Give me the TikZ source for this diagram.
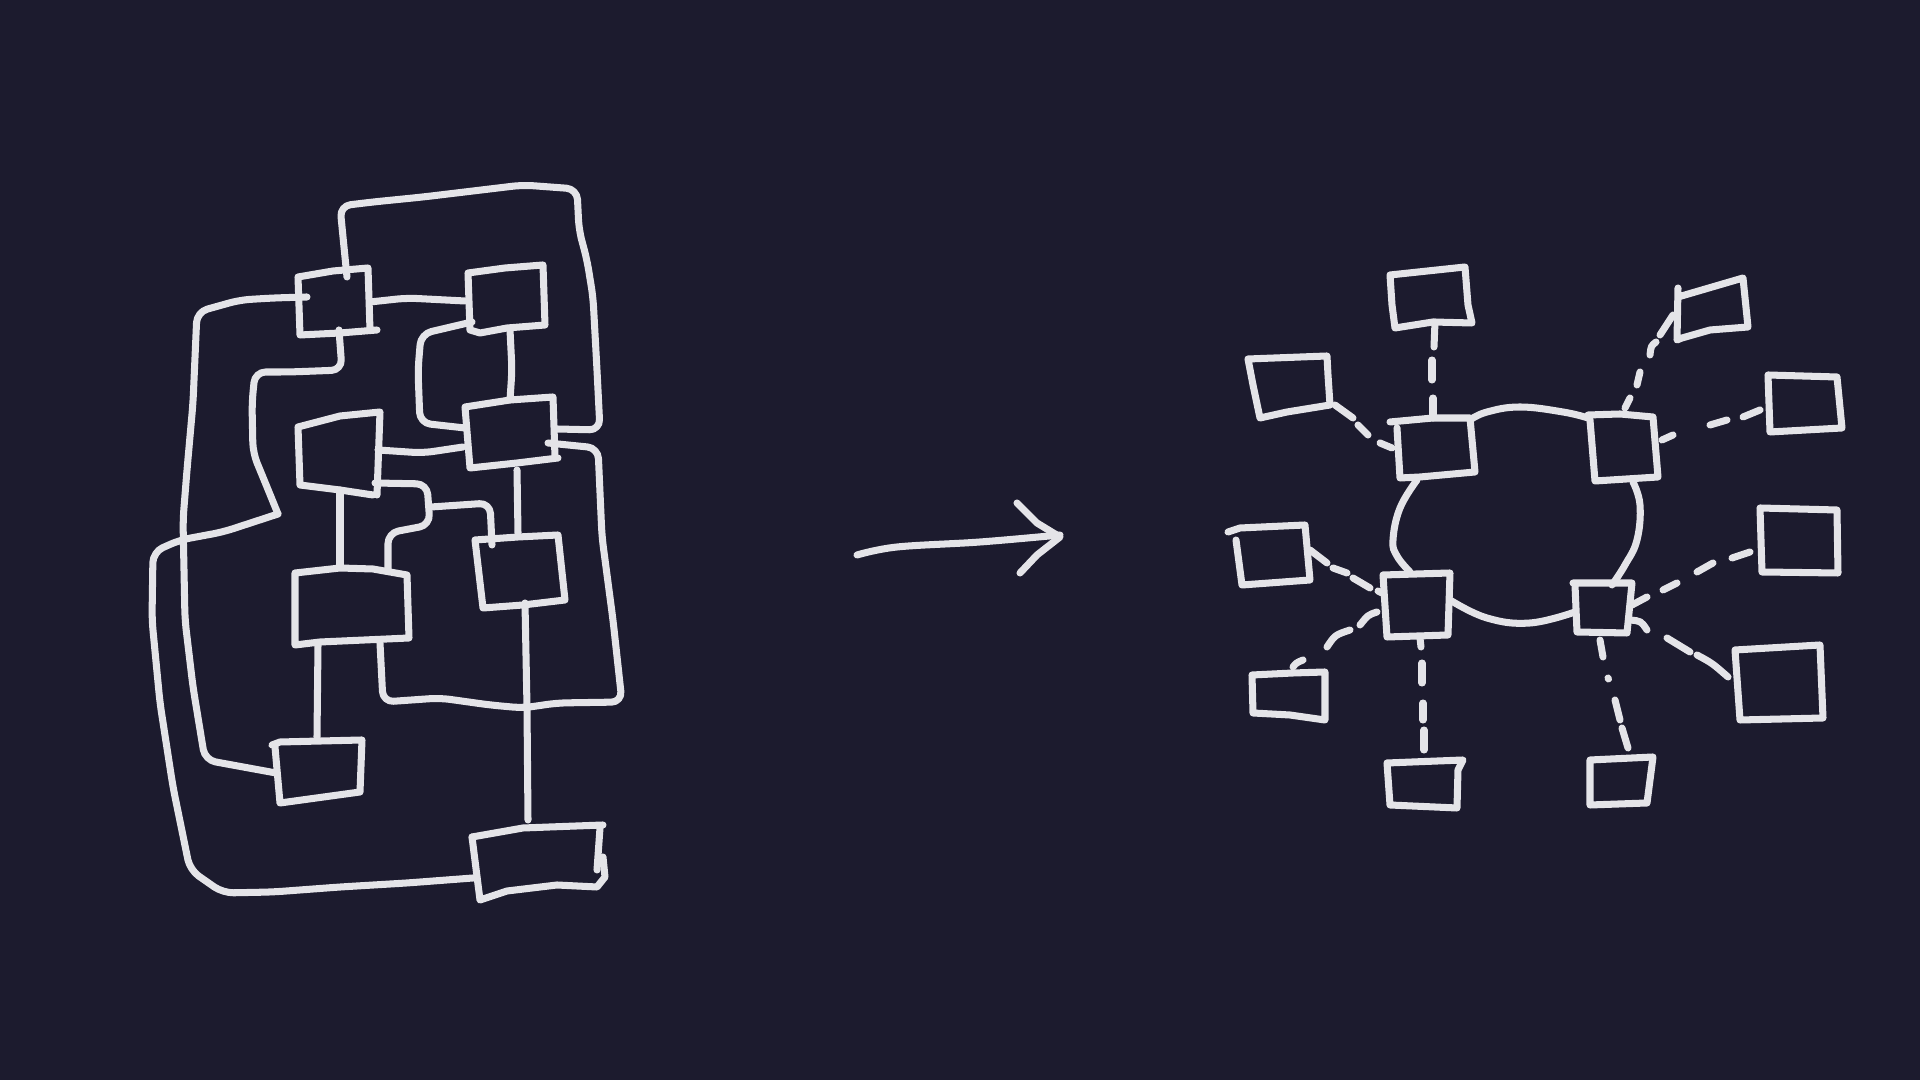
\documentclass[tikz,border=0pt]{standalone}
\definecolor{bg}{RGB}{28,27,46}
\definecolor{ink}{RGB}{228,228,232}
\tikzset{
  sk/.style={draw=ink, line width=2pt, line cap=round, line join=round},
  skr/.style={sk, rounded corners=3pt},
  skc/.style={draw=ink, line width=2pt, line cap=round, line join=round}
}
\begin{document}
\begin{tikzpicture}[x=0.01cm,y=-0.01cm]
\fill[bg] (0,0) rectangle (1920,1080);
\useasboundingbox (0,0) rectangle (1920,1080);

% ================= LEFT: tangled diagram =================
% boxes
\draw[sk] (377,330) -- (340,333) -- (300,335) -- (298,277) -- (333,271) -- (368,268) -- (370,330);           % A
\draw[sk] (468,273) -- (505,268) -- (543,265) -- (545,325) -- (507,328) -- (480,333) -- (470,330) -- (468,273); % B
\draw[sk] (373,495) -- (340,490) -- (300,485) -- (298,427) -- (340,416) -- (380,412) -- (377,495);           % C
\draw[sk] (558,458) -- (517,463) -- (470,468) -- (465,407) -- (510,400) -- (553,397) -- (555,457);           % D
\draw[sk] (409,638) -- (320,642) -- (295,645) -- (295,573) -- (340,568) -- (373,569) -- (407,575) -- (409,638); % E
\draw[sk] (475,540) -- (518,537) -- (558,535) -- (565,600) -- (523,605) -- (483,608) -- (475,540);           % F
\draw[sk] (272,745) -- (280,742) -- (362,740) -- (360,792) -- (280,803) -- (275,747);                         % G
\draw[sk] (472,837) -- (523,828) -- (603,825);                                                                % H top
\draw[sk] (600,828) -- (597,870);
\draw[sk] (603,857) -- (605,877) -- (597,887) -- (557,885) -- (507,891) -- (480,900) -- (472,837);

% connectors
\draw[skr] (347,277) -- (343,237) -- (340,206) -- (373,202) -- (423,197) -- (473,191) -- (523,185) -- (577,189)
      -- (579,230) -- (587,260) -- (593,297) -- (597,370) -- (600,430) -- (557,429);
\draw[skr] (307,297) -- (273,298) -- (240,300) -- (197,312) -- (193,403) -- (187,470) -- (183,520)
      -- (185,620) -- (193,687) -- (205,760) -- (276,773);
\draw[skr] (370,302) -- (407,298) -- (465,301);
\draw[skr] (472,322) -- (421,334) -- (418,370) -- (420,423) -- (465,428);
\draw[skr] (510,330) -- (512,370) -- (510,400);
\draw[skr] (339,330) -- (342,370) -- (290,372) -- (255,372) -- (252,403)
      -- (253,453) -- (267,487) -- (278,514);
\draw[skr] (278,514) -- (223,532) -- (180,540) -- (153,552) -- (152,620)
      -- (160,703) -- (173,787) -- (190,870) -- (223,893) -- (273,892) -- (340,887) -- (407,883) -- (473,878);
\draw[skr] (548,443) -- (598,448) -- (602,537) -- (613,620) -- (622,702)
      -- (557,703) -- (523,708) -- (490,705) -- (440,698) -- (383,702) -- (380,643);
\draw[skr] (378,450) -- (423,453) -- (463,447);
\draw[skr] (375,483) -- (427,484) -- (430,525) -- (388,533) -- (388,570);
\draw[skr] (431,507) -- (490,503) -- (492,545);
\draw[sk] (340,490) -- (340,567);
\draw[sk] (517,470) -- (518,533);
\draw[sk] (318,645) -- (317,737);
\draw[skr] (525,603) -- (527,707) -- (528,820);

% ================= ARROW =================
\draw[skc] plot[smooth, tension=0.6] coordinates {(857,555) (897,547) (980,542) (1060,535)};
\draw[sk] (1017,503) -- (1037,523) -- (1060,537) -- (1037,555) -- (1020,573);

% ================= RIGHT: organised diagram =================
% central boxes
\draw[sk] (1390,422) -- (1433,418) -- (1470,418) -- (1475,472) -- (1420,477) -- (1400,478) -- (1397,428);   % C1
\draw[sk] (1588,415) -- (1620,414) -- (1653,417) -- (1658,477) -- (1595,481) -- (1590,420);                 % C2
\draw[sk] (1383,575) -- (1450,573) -- (1448,635) -- (1387,637) -- (1383,575);                               % C3
\draw[sk] (1573,583) -- (1632,583) -- (1627,633) -- (1577,632) -- (1575,585);                               % C4
% ring
\draw[skc] plot[smooth, tension=0.7] coordinates {(1470,420) (1487,412) (1520,407) (1563,412) (1588,418)};
\draw[skc] plot[smooth, tension=0.7] coordinates {(1633,482) (1640,505) (1637,540) (1625,565) (1612,585)};
\draw[skc] plot[smooth, tension=0.7] coordinates {(1450,600) (1487,618) (1530,623) (1575,612)};
\draw[skc] plot[smooth, tension=0.7] coordinates {(1417,480) (1400,508) (1393,540) (1397,556) (1410,572)};

% outer boxes
\draw[sk] (1390,275) -- (1465,267) -- (1468,305) -- (1472,323) -- (1433,322) -- (1395,328) -- (1392,305) -- (1390,275); % O1
\draw[sk] (1678,288) -- (1677,340) -- (1682,338) -- (1710,330) -- (1748,327) -- (1743,278) -- (1678,297);                 % O2
\draw[sk] (1768,375) -- (1837,377) -- (1842,428) -- (1770,432) -- (1768,375);                                             % O3
\draw[sk] (1248,359) -- (1327,356) -- (1328,375) -- (1330,405) -- (1287,412) -- (1260,418) -- (1253,385) -- (1248,359);   % O4
\draw[sk] (1228,532) -- (1240,528) -- (1305,525) -- (1310,580) -- (1242,585) -- (1236,540);                               % O5
\draw[sk] (1760,508) -- (1837,510) -- (1838,573) -- (1762,572) -- (1760,508);                                             % O6
\draw[sk] (1252,675) -- (1293,673) -- (1325,672) -- (1325,720) -- (1290,715) -- (1253,713) -- (1252,675);                 % O7
\draw[sk] (1735,650) -- (1820,645) -- (1823,718) -- (1740,720) -- (1735,650);                                             % O8
\draw[sk] (1387,763) -- (1463,760) -- (1458,770) -- (1457,808) -- (1390,805) -- (1387,763);                               % O9
\draw[sk] (1590,760) -- (1653,757) -- (1647,803) -- (1590,805) -- (1590,760);                                             % O10

% dashed links (drawn dash by dash)
% O1 - C1
\draw[skc] (1435,322) -- (1434,347);
\draw[skc] (1432,360) -- (1432,380);
\draw[skc] (1433,398) -- (1433,418);
% O4 - C1
\draw[skc] (1335,405) -- (1353,418);
\draw[skc] (1358,425) -- (1368,435);
\draw[skc] (1380,443) -- (1392,448);
% O2 - C2
\draw[skc] (1673,315) -- (1660,335);
\draw[skc] (1656,342) .. controls (1651,346) .. (1650,355);
\draw[skc] (1640,372) -- (1637,385);
\draw[skc] (1630,398) -- (1625,408);
% O3 - C2
\draw[skc] (1760,410) -- (1743,417);
\draw[skc] (1727,420) -- (1710,425);
\draw[skc] (1673,435) -- (1662,440);
% O5 - C3
\draw[skc] (1310,550) -- (1327,563);
\draw[skc] (1333,568) -- (1347,573);
\draw[skc] (1353,578) -- (1370,588);
\draw[skc] (1378,591) -- (1382,593);
% O7 - C3
\draw[skc] (1377,612) .. controls (1368,615) .. (1360,625);
\draw[skc] (1350,630) .. controls (1335,635) .. (1327,647);
\draw[skc] (1303,660) .. controls (1296,663) .. (1293,667);
% O9 - C3
\draw[skc] (1420,638) -- (1421,647);
\draw[skc] (1422,663) -- (1422,683);
\draw[skc] (1423,703) -- (1423,720);
\draw[skc] (1424,730) -- (1424,750);
% O6 - C4
\draw[skc] (1632,605) -- (1647,597);
\draw[skc] (1663,590) -- (1677,583);
\draw[skc] (1697,572) -- (1713,563);
\draw[skc] (1732,558) -- (1750,552);
% O8 - C4
\draw[skc] (1630,620) .. controls (1641,621) .. (1647,630);
\draw[skc] (1667,638) -- (1690,652);
\draw[skc] (1697,655) .. controls (1712,663) .. (1728,677);
% O10 - C4 (dash-dot)
\draw[skc] (1600,640) -- (1603,657);
\draw[skc] (1608,678) -- (1608.5,679);
\draw[skc] (1615,700) -- (1620,720);
\draw[skc] (1622,728) -- (1628,748);
\end{tikzpicture}
\end{document}
